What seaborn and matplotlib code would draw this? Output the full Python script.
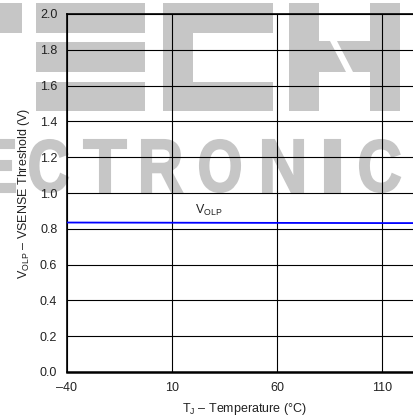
import matplotlib
matplotlib.use("Agg")
import matplotlib.pyplot as plt
import seaborn as sns
import pandas as pd
from matplotlib.font_manager import FontProperties
from matplotlib.textpath import TextPath
from matplotlib.patches import PathPatch, Rectangle, Polygon
from matplotlib.transforms import Affine2D, IdentityTransform

# data
temperature = [-40, 10, 60, 110, 125]
v_olp = [0.835, 0.834, 0.833, 0.832, 0.832]
x_ticks = [-40, 10, 60, 110]
x_tick_labels = ["\u201340", "10", "60", "110"]
y_ticks = [0.0, 0.2, 0.4, 0.6, 0.8, 1.0, 1.2, 1.4, 1.6, 1.8, 2.0]

df = pd.DataFrame({"temp": temperature, "volp": v_olp})

sns.set_theme(style="white")
plt.rcParams["font.family"] = ["Liberation Sans", "DejaVu Sans"]
plt.rcParams["mathtext.fontset"] = "custom"
plt.rcParams["mathtext.rm"] = "Liberation Sans"
plt.rcParams["mathtext.it"] = "Liberation Sans"

W, H = 414, 417
fig = plt.figure(figsize=(W / 100, H / 100), dpi=100)
fig.patch.set_facecolor("white")

# background watermark (pixel coordinates, drawn behind the axes)
wm = "#c6c6c6"


def block(x0, y0, x1, y1):
    fig.add_artist(Rectangle((x0, H - y1), x1 - x0, y1 - y0, fc=wm, ec="none",
                             transform=IdentityTransform(), zorder=-5))


def poly(pts):
    fig.add_artist(Polygon([(x, H - y) for x, y in pts], closed=True, fc=wm, ec="none",
                           transform=IdentityTransform(), zorder=-5))


# T (partial)
block(0, 3, 22, 33)
# E
block(36, 3, 145, 33)
block(36, 42, 145, 72)
block(36, 82, 145, 111)
# C
block(163, 3, 273, 33)
block(163, 3, 193, 111)
block(163, 82, 273, 111)
# H with diagonal cut
block(289, 3, 319, 111)
block(370, 3, 400, 111)
poly([(319, 41), (330, 41), (346, 72), (319, 72)])
poly([(337, 41), (370, 41), (370, 72), (353, 72)])

fp = FontProperties(family="Liberation Sans", weight="bold")
letters = [("E", -25, 15), ("C", 30, 68), ("T", 84, 126), ("R", 142, 182),
           ("O", 200, 240), ("N", 263, 303), ("I", 325, 340), ("C", 360, 400)]
for ch, x0, x1 in letters:
    tp = TextPath((0, 0), ch, size=100, prop=fp)
    ext = tp.get_extents()
    y0, y1 = 140, 192
    tr = (Affine2D().translate(-ext.x0, -ext.y0)
          .scale((x1 - x0) / ext.width, (y1 - y0) / ext.height)
          .translate(x0, H - y1))
    fig.add_artist(PathPatch(tr.transform_path(tp), fc=wm, ec=wm, lw=1.5,
                             transform=IdentityTransform(), zorder=-5))

# axes
left, right, top, bottom = 67, 414, 14, 372
ax = fig.add_axes([left / W, (H - bottom) / H, (right - left) / W, (bottom - top) / H])
ax.set_facecolor("none")

sns.lineplot(data=df, x="temp", y="volp", ax=ax, color="#0000ff", linewidth=1.3, zorder=3)

ax.set_xlim(-40, 125.2)
ax.set_ylim(0, 2.0)
ax.set_xticks(x_ticks)
ax.set_xticklabels(x_tick_labels)
ax.set_yticks(y_ticks)
ax.set_yticklabels([f"{v:.1f}" for v in y_ticks])
ax.tick_params(axis="both", length=0, labelsize=9, colors="#222222")
ax.tick_params(axis="y", pad=7)
ax.tick_params(axis="x", pad=7)

ax.grid(True, color="black", linewidth=0.8)
for s in ["left", "top", "bottom"]:
    ax.spines[s].set_color("black")
ax.spines["left"].set_linewidth(1.2)
ax.spines["top"].set_linewidth(1.2)
ax.spines["bottom"].set_linewidth(1.8)
ax.spines["right"].set_visible(False)

ax.text(21, 0.883, r"$\mathregular{V_{OLP}}$", fontsize=9, color="#222222", va="baseline")

ax.set_xlabel(r"$\mathregular{T_J}$" + " \u2013 Temperature (\u00b0C)", fontsize=9, color="#222222")
ax.set_ylabel(r"$\mathregular{V_{OLP}}$" + " \u2013 VSENSE Threshold (V)", fontsize=9, color="#222222")
ax.xaxis.set_label_coords((245 - left) / (right - left), -(401 - bottom) / (bottom - top))
ax.xaxis.label.set_va("top")
ax.yaxis.set_label_coords(-(left - 24) / (right - left), 0.5)
ax.yaxis.label.set_va("center")

fig.savefig("out.png", dpi=100)
plt.close(fig)
